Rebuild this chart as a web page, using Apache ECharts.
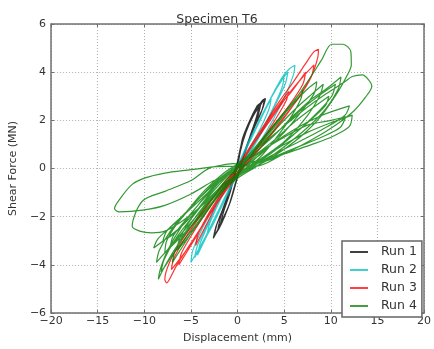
<!DOCTYPE html>
<html>
<head>
<meta charset="utf-8">
<script src="https://cdn.jsdelivr.net/npm/echarts@6/dist/echarts.min.js"></script>
<style>
  html, body { margin: 0; padding: 0; background: #fff; }
  #chart { width: 434px; height: 349px; }
</style>
</head>
<body>
<div id="chart"></div>
<script>
// [displacement mm, shear force MN]
var run1 = [
  [0,0],[0.3,0.7],[0.9,1.5],[1.7,2.2],[2.4,2.6],[2.9,2.9],[2.6,2.4],[1.8,1.7],[1.0,0.9],[0.3,0.1],
  [-0.3,-0.7],[-0.9,-1.5],[-1.6,-2.1],[-2.2,-2.6],[-2.6,-2.9],[-2.3,-2.4],[-1.6,-1.7],[-0.8,-0.8],[-0.2,0.0],
  [0.2,0.6],[0.6,1.3],[1.3,1.9],[2.0,2.4],[2.5,2.7],[2.2,2.2],[1.4,1.4],[0.6,0.5],[0.0,-0.3],
  [-0.4,-0.9],[-1.0,-1.6],[-1.7,-2.2],[-2.1,-2.5],[-1.8,-2.0],[-1.1,-1.2],[-0.4,-0.3],[0.0,0.3],
  [0.4,1.0],[1.0,1.7],[1.8,2.3],[2.6,2.8],[3.0,2.9],[2.7,2.5],[2.0,1.9],[1.2,1.1],[0.5,0.3],
  [-0.1,-0.5],[-0.7,-1.3],[-1.4,-2.0],[-2.0,-2.5],[-2.5,-2.8],[-2.2,-2.3],[-1.4,-1.5],[-0.6,-0.6],[0.0,0.1],
  [0.5,1.2],[1.2,1.9],[2.1,2.6],[2.4,2.7],[2.0,2.1],[1.3,1.3],[0.5,0.4],[-0.2,-0.6],
  [-0.8,-1.4],[-1.3,-1.9],[-1.9,-2.4],[-1.5,-1.8],[-0.8,-1.0],[-0.2,-0.1],[0,0]
];
var run2 = [
  [0,0],[0.8,0.7],[1.8,1.5],[2.8,2.3],[3.6,2.9],[3.4,2.5],[2.5,1.7],[1.4,0.9],[0.4,0.1],
  [-0.6,-0.7],[-1.6,-1.5],[-2.6,-2.3],[-3.3,-2.8],[-3.0,-2.3],[-2.1,-1.5],[-1.1,-0.7],[0,0.1],
  [1,0.9],[2.2,1.9],[3.4,2.8],[4.4,3.5],[5.0,3.9],[4.8,3.4],[3.8,2.5],[2.5,1.5],[1.0,0.5],
  [-0.3,-0.4],[-1.5,-1.3],[-2.8,-2.4],[-3.8,-3.2],[-4.3,-3.6],[-4.0,-3.1],[-3.0,-2.2],[-1.8,-1.2],[-0.6,-0.3],[0.2,0.3],
  [1.3,1.2],[2.6,2.2],[3.8,3.1],[4.8,3.8],[5.6,4.15],[6.15,4.29],[6.0,3.9],[5.2,3.1],[3.9,2.1],[2.4,1.1],[0.8,0.2],
  [-0.6,-0.7],[-2,-1.7],[-3.4,-2.8],[-4.4,-3.5],[-5.0,-3.9],[-4.8,-3.4],[-3.8,-2.5],[-2.4,-1.5],[-1,-0.5],[0,0.1],
  [1.2,1.1],[2.5,2.1],[3.7,3.0],[4.8,3.7],[5.4,4.0],[5.1,3.5],[4.0,2.6],[2.6,1.5],[1.1,0.5],
  [-0.4,-0.5],[-1.8,-1.6],[-3.2,-2.7],[-4.2,-3.4],[-4.6,-3.7],[-4.3,-3.2],[-3.2,-2.3],[-1.8,-1.2],[-0.5,-0.2],[0,0]
];
var run3 = [
  [0,0],[1,0.7],[2.5,1.5],[4,2.4],[5.5,3.2],[5.2,2.8],[4,2.0],[2.5,1.1],[1,0.3],
  [-0.5,-0.4],[-2,-1.3],[-3.3,-2.3],[-4.5,-3.2],[-4.2,-2.7],[-3,-1.8],[-1.5,-0.9],[0,0],
  [1.5,0.9],[3,1.8],[4.5,2.6],[6,3.3],[7.3,4.0],[7.0,3.5],[5.5,2.6],[3.5,1.6],[1.5,0.5],
  [0,-0.2],[-1.5,-1.0],[-3,-1.9],[-4.7,-3.0],[-6.3,-4.0],[-6,-3.5],[-4.5,-2.5],[-2.8,-1.5],[-1,-0.5],[0,0.1],
  [1.5,1.0],[3,1.9],[4.5,2.8],[6,3.6],[7.2,4.3],[8.2,4.85],[8.68,4.95],[8.6,4.6],[8.0,3.9],[6.8,3.1],[5,2.1],[3,1.1],[1,0.2],
  [-1,-0.8],[-3,-1.9],[-5,-3.1],[-6.5,-4.0],[-7.3,-4.6],[-7.6,-4.75],[-7.8,-4.6],[-7.3,-3.9],[-6,-3.0],[-4,-1.9],[-2,-0.9],[0,0],
  [1.5,0.9],[3.5,2.0],[5.5,3.1],[7,3.8],[8.2,4.3],[7.9,3.8],[6.5,2.9],[4.5,1.9],[2.5,0.9],[0.5,0.1],
  [-1.5,-1.0],[-3.5,-2.2],[-5.5,-3.4],[-7.1,-4.2],[-6.8,-3.7],[-5.3,-2.7],[-3.3,-1.6],[-1.3,-0.5],[0,0]
];
var run4 = [
  [0,0],[1.5,0.7],[3,1.4],[4.5,2.1],[6,2.8],[7,3.3],[6.8,2.9],[5.5,2.0],[4,1.2],[2.5,0.5],[1,0],
  [-0.5,-0.4],[-2,-1.1],[-3.5,-1.9],[-5,-2.7],[-6.5,-3.4],[-6.2,-2.9],[-5,-2.1],[-3.5,-1.3],[-2,-0.6],[-0.5,-0.1],[0.5,0.2],
  [2,0.9],[4,1.8],[6,2.7],[7.5,3.3],[8.5,3.6],[8.2,3.1],[6.5,2.2],[4.5,1.3],[2.5,0.6],[0.5,0],
  [-1.5,-0.8],[-3.5,-1.8],[-5.5,-3.0],[-6.5,-3.6],[-7,-3.9],[-6.6,-3.3],[-5.2,-2.4],[-3.5,-1.5],[-1.5,-0.6],[0,0],
  [2,0.8],[4,1.6],[6,2.4],[8,3.1],[9.2,3.5],[8.8,3.0],[7.5,2.2],[5.5,1.3],[3.5,0.6],[1.5,0.1],
  [-0.5,-0.5],[-2.5,-1.3],[-4.5,-2.2],[-6.5,-3.0],[-7.8,-3.5],[-7.6,-3.0],[-6.5,-2.3],[-4.5,-1.4],[-2.5,-0.6],[-0.5,0],
  [2,0.6],[4,1.2],[6,1.9],[8,2.5],[9.8,3.0],[9.4,2.6],[7.5,1.9],[5,1.1],[2.5,0.4],[0,-0.2],
  [-2,-0.9],[-4,-1.8],[-5.8,-2.6],[-7.2,-3.2],[-6.9,-2.8],[-5.5,-2.1],[-3.5,-1.2],[-1.5,-0.4],[0,0],
  [1.5,0.6],[3.5,1.5],[5.5,2.5],[7.5,3.6],[9,4.5],[10.1,5.16],[11.3,5.16],[12.15,4.85],[12.2,4.3],[11.8,3.9],[10.8,3.2],
  [9,2.2],[7,1.4],[5,0.8],[3,0.3],[1,-0.1],[-1,-0.6],[-3,-1.4],[-5,-2.4],[-6.8,-3.4],[-8,-4.2],[-8.5,-4.6],
  [-8.3,-4.2],[-7.5,-3.4],[-6,-2.4],[-4,-1.4],[-2,-0.5],[0,0.1],
  [2,0.7],[4.5,1.6],[7,2.5],[9,3.1],[10.5,3.5],[10.1,3.0],[8.5,2.3],[6,1.4],[3.5,0.6],[1,0],
  [-1,-0.7],[-3,-1.6],[-5,-2.6],[-6.8,-3.5],[-8.2,-4.3],[-7.9,-3.8],[-6.6,-2.9],[-4.6,-1.9],[-2.5,-0.9],[-0.5,-0.1],[0,0],
  [2,0.7],[4,1.4],[6,2.2],[8,2.9],[9.5,3.3],[11.1,3.8],[10.8,3.3],[9.5,2.5],[7.5,1.7],[5,0.9],[2.5,0.2],
  [0,-0.4],[-2,-1.0],[-4,-1.8],[-6,-2.7],[-7.8,-3.5],[-8.7,-3.9],[-8.4,-3.4],[-7.2,-2.6],[-5.5,-1.8],[-3.5,-0.9],[-1.5,-0.2],[0,0.2],
  [2,0.8],[4.5,1.6],[7,2.4],[9.5,3.1],[11.5,3.6],[12.3,3.82],[13.4,3.89],[14.06,3.68],[14.4,3.42],[13.7,2.95],[12.5,2.4],
  [10.5,1.8],[8,1.2],[5.5,0.7],[3,0.3],[0.5,0.1],[-2.6,0.07],[-5,-0.5],[-7.8,-0.95],[-10.2,-1.35],[-11.3,-2.4],
  [-10.5,-2.6],[-9.2,-2.67],[-7.8,-2.6],[-6,-2.2],[-4,-1.6],[-2,-0.9],[0,-0.3],
  [3,0.8],[6,1.6],[9,2.2],[12,2.6],[11.5,2.2],[9,1.6],[6,1.0],[3,0.4],[0,-0.3],
  [-3,-1.2],[-6,-2.4],[-9,-3.3],[-8.5,-2.9],[-6.5,-2.2],[-4,-1.3],[-1.5,-0.4],[0,0],
  [2.5,0.4],[5,1.0],[7.5,1.5],[10,1.9],[11.5,2.1],[12.3,2.22],[12,1.75],[10.24,1.34],[8,1.0],[5,0.6],[2,0.1],
  [-0.5,0.2],[-2.6,0.07],[-5,-0.05],[-7.8,-0.19],[-10,-0.4],[-11.3,-0.66],[-12.5,-1.2],[-13.2,-1.66],
  [-12.7,-1.8],[-10.2,-1.73],[-7.8,-1.53],[-5,-1.06],[-2.5,-0.5],[0,-0.1],
  [2.5,0.7],[5,1.3],[7.5,1.8],[10,2.0],[11.6,2.15],[11,1.7],[9,1.3],[6.5,0.9],[4,0.5],[1.5,0.1],
  [-1,-0.5],[-3,-1.2],[-5,-2.0],[-6.8,-2.7],[-8,-3.0],[-7.6,-2.6],[-6,-2.0],[-4,-1.2],[-2,-0.5],[0,0]
];
var runNames = ['Run 1', 'Run 2', 'Run 3', 'Run 4'];
var runColors = ['#000000', '#00bfbf', '#ff0000', '#008000'];
var runData = [run1, run2, run3, run4];

var font = 'DejaVu Sans';
var minus = function (v) { return String(v).replace('-', '\u2212'); };

var myChart = echarts.init(document.getElementById('chart'));

var series = [];
for (var i = 0; i < runData.length; i++) {
    series.push({
        name: runNames[i],
        type: 'line',
        data: runData[i],
        showSymbol: false,
        smooth: 0.3,
        animation: false,
        lineStyle: { width: 1.2, color: runColors[i], opacity: 0.8 },
        itemStyle: { color: runColors[i] }
    });
}

var frame = '#707070';
var baseX = {
    type: 'value', min: -20, max: 20, interval: 5,
    axisLine: { onZero: false, lineStyle: { color: frame, width: 1.5 } },
    axisTick: { inside: true, length: 3, lineStyle: { color: frame } }
};
var baseY = {
    type: 'value', min: -6, max: 6, interval: 2,
    axisLine: { onZero: false, lineStyle: { color: frame, width: 1.5 } },
    axisTick: { inside: true, length: 3, lineStyle: { color: frame } }
};

var option = {
    backgroundColor: '#fff',
    title: {
        text: 'Specimen T6',
        left: 'center',
        top: 8,
        textStyle: { fontFamily: font, fontSize: 12.5, fontWeight: 'normal', color: '#333' }
    },
    legend: {
        orient: 'vertical',
        left: 342,
        top: 241,
        padding: [4, 5, 4, 8],
        itemGap: 4,
        itemWidth: 18,
        itemHeight: 1.5,
        icon: 'rect',
        borderColor: '#666',
        borderWidth: 1.5,
        backgroundColor: '#fff',
        textStyle: { fontFamily: font, fontSize: 12.5, color: '#333', lineHeight: 14, padding: [0, 0, 0, 8] },
        data: runNames
    },
    grid: { left: 43, right: 7, top: 24, bottom: 26, show: false },
    xAxis: [
        Object.assign({}, baseX, {
            position: 'bottom',
            name: 'Displacement (mm)',
            nameLocation: 'middle',
            nameGap: 20,
            nameTextStyle: { fontFamily: font, fontSize: 11, color: '#333' },
            axisLabel: { formatter: minus, margin: 3, fontFamily: font, fontSize: 11, color: '#333' },
            splitLine: { show: true, lineStyle: { type: [1, 2], color: '#b0b0b0', width: 1 } }
        }),
        Object.assign({}, baseX, {
            position: 'top',
            axisLabel: { show: false },
            splitLine: { show: false }
        })
    ],
    yAxis: [
        Object.assign({}, baseY, {
            position: 'left',
            name: 'Shear Force (MN)',
            nameLocation: 'middle',
            nameGap: 28,
            nameTextStyle: { fontFamily: font, fontSize: 11, color: '#333' },
            axisLabel: { formatter: minus, margin: 5, fontFamily: font, fontSize: 11, color: '#333' },
            splitLine: { show: true, lineStyle: { type: [1, 2], color: '#b0b0b0', width: 1 } }
        }),
        Object.assign({}, baseY, {
            position: 'right',
            axisLabel: { show: false },
            splitLine: { show: false }
        })
    ],
    series: series
};
myChart.setOption(option);
</script>
</body>
</html>
